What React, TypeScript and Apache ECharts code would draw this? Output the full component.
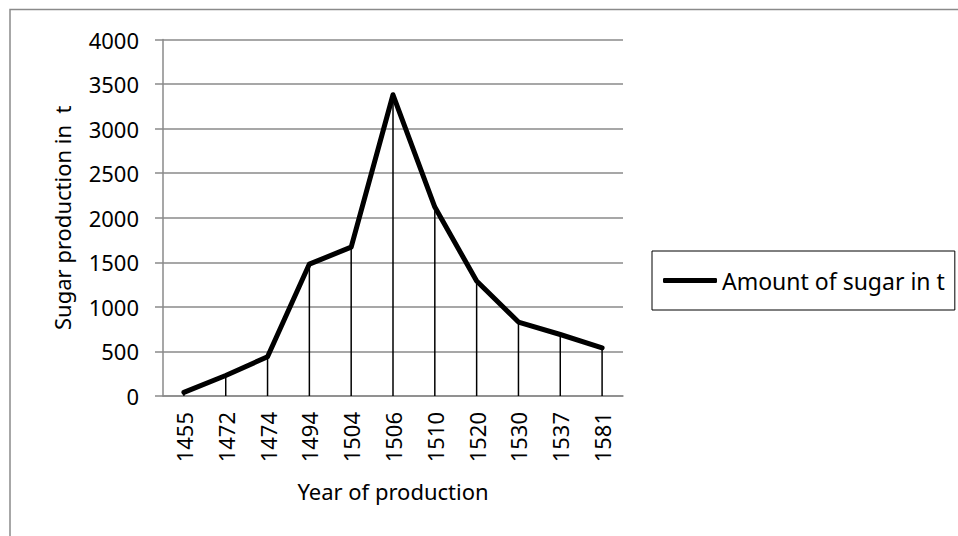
import React, { useEffect, useRef } from "react";
import * as echarts from "echarts";

const years = ["1455", "1472", "1474", "1494", "1504", "1506", "1510", "1520", "1530", "1537", "1581"];
const sugar = [40, 230, 440, 1480, 1670, 3380, 2120, 1290, 830, 690, 540];
const seriesName = "Amount of sugar in t";
const yName = "Sugar production in  t";
const xName = "Year of production";

export default function App() {
  const ref = useRef<HTMLDivElement>(null);
  useEffect(() => {
    if (!ref.current) return;
    const chart = echarts.init(ref.current, null, { renderer: "svg" });
    const font = "'Noto Sans', sans-serif";
    chart.setOption({
      animation: false,
      backgroundColor: "#ffffff",
      textStyle: { fontFamily: font },
      graphic: [
        {
          type: "rect",
          shape: { x: 10, y: 9.5, width: 1200, height: 1200 },
          style: { fill: "none", stroke: "#8a8a8a", lineWidth: 1.5 },
          silent: true,
        },
      ],
      grid: { left: 163, right: 335, top: 39.5, bottom: 140, containLabel: false },
      legend: {
        data: [{ name: seriesName, icon: "roundRect" }],
        left: 652,
        top: 251,
        orient: "vertical",
        borderColor: "#000",
        borderWidth: 1,
        padding: [18, 10, 18, 11],
        itemWidth: 54,
        itemHeight: 5,
        itemStyle: { color: "#000" },
        textStyle: { fontFamily: font, fontSize: 23, color: "#000" },
      },
      xAxis: {
        type: "category",
        data: years,
        boundaryGap: true,
        name: xName,
        nameLocation: "middle",
        nameGap: 84,
        nameTextStyle: { fontFamily: font, fontSize: 22, color: "#000" },
        axisLine: { lineStyle: { color: "#8a8a8a", width: 1.5 } },
        axisTick: { show: false },
        axisLabel: { rotate: 90, margin: 16, fontFamily: font, fontSize: 22, color: "#000" },
        splitLine: { show: false },
      },
      yAxis: {
        type: "value",
        min: 0,
        max: 4000,
        interval: 500,
        name: yName,
        nameLocation: "middle",
        nameGap: 90,
        nameTextStyle: { fontFamily: font, fontSize: 22, color: "#000" },
        axisLine: { show: true, lineStyle: { color: "#8a8a8a", width: 1.5 } },
        axisTick: { show: true, length: 8, lineStyle: { color: "#8a8a8a", width: 1.5 } },
        axisLabel: {
          margin: 24,
          fontFamily: font,
          fontSize: 22,
          color: "#000",
          formatter: (v: number) => String(v),
        },
        splitLine: { show: true, lineStyle: { color: "#8a8a8a", width: 1.5 } },
      },
      series: [
        {
          name: "drop",
          type: "bar",
          data: sugar,
          barWidth: 1.5,
          itemStyle: { color: "#000" },
          silent: true,
          z: 2,
        },
        {
          name: seriesName,
          type: "line",
          data: sugar,
          symbol: "none",
          lineStyle: { color: "#000", width: 5, cap: "round", join: "round" },
          itemStyle: { color: "#000" },
          z: 3,
        },
      ],
    });
    return () => chart.dispose();
  }, []);
  return (
    <div
      ref={ref}
      style={{ position: "absolute", left: 0, top: 0, width: 958, height: 536 }}
    />
  );
}
